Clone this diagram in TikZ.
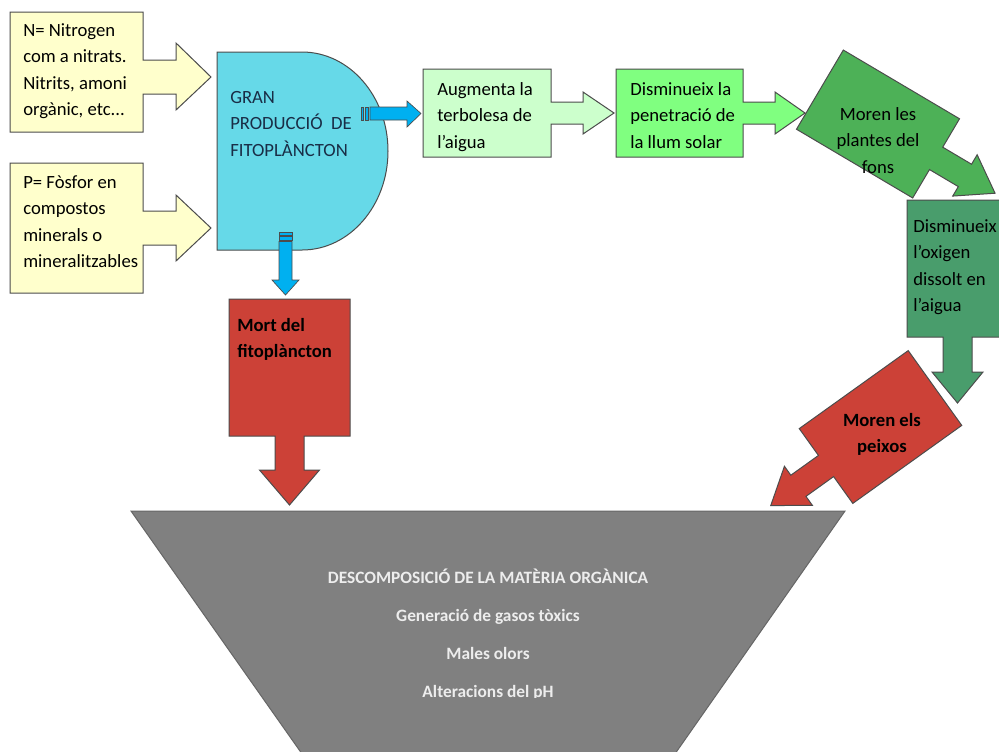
\documentclass[tikz,border=0pt]{standalone}
\usepackage{fontspec}
\setmainfont{Carlito}
\definecolor{yel}{HTML}{FFFFCC}
\definecolor{cyn}{HTML}{66D9E8}
\definecolor{blu}{HTML}{00B0F0}
\definecolor{lgr}{HTML}{CCFFCC}
\definecolor{bgr}{HTML}{80FF80}
\definecolor{mgr}{RGB}{77,177,87}
\definecolor{tgr}{RGB}{73,157,108}
\definecolor{redf}{RGB}{204,65,55}
\definecolor{gry}{HTML}{808080}
\definecolor{navy}{RGB}{25,45,70}
\begin{document}
\begin{tikzpicture}[x=0.75pt,y=-0.75pt,line join=miter,
  shp/.style={draw=black!70,line width=0.75pt},
  txt/.style={inner sep=0pt,anchor=north west,align=left,font=\fontsize{14}{19.8}\selectfont,text=black},
  ctxt/.style={txt,anchor=north,align=center},
  btxt/.style={inner sep=0pt,anchor=north,align=center,font=\fontsize{13}{28.5}\selectfont\bfseries,text=white!93!black}]
\clip (0,0) rectangle (999,751);
\fill[white] (0,0) rectangle (999,751);

% input callouts
\draw[shp,fill=yel] (10,12) -- (143,12) -- (143,60) -- (176,60) -- (176,43) -- (211,77) -- (176,110) -- (176,94) -- (143,94) -- (143,132) -- (10,132) -- cycle;
\draw[shp,fill=yel] (10,163) -- (143,163) -- (143,211) -- (176,211) -- (176,195) -- (211,228) -- (176,261) -- (176,245) -- (143,245) -- (143,293) -- (10,293) -- cycle;
\node[txt] (tN) at (23,17.5) {\strut N= Nitrogen\\\strut com a nitrats.\\\strut Nitrits, amoni\\\strut orgànic, etc{.}{.}{.}};
\node[txt] (tP) at (23,169.5) {\strut P= Fòsfor en\\\strut compostos\\\strut minerals o\\\strut mineralitzables};

% delay shape
\draw[shp,fill=cyn] (217,52) -- (302,52) arc[start angle=90,end angle=-90,x radius=64.5pt,y radius=74.25pt] -- (217,250) -- cycle;
\node[txt,text=navy] (tD) at (230,84.5) {\strut GRAN\\\strut PRODUCCIÓ\ \ DE\\\strut FITOPLÀNCTON};

% striped blue arrows
\draw[shp,fill=blu,line width=0.5pt] (361,107) rectangle (363,120);
\draw[shp,fill=blu,line width=0.5pt] (365,107) rectangle (368,120);
\draw[shp,fill=blu,line width=0.5pt] (370,107) -- (407,107) -- (407,101) -- (421,113.5) -- (407,127) -- (407,120) -- (370,120) -- cycle;
\draw[shp,fill=blu,line width=0.5pt] (279,232.5) rectangle (292,235);
\draw[shp,fill=blu,line width=0.5pt] (279,236.5) rectangle (292,240);
\draw[shp,fill=blu,line width=0.5pt] (279,241.5) -- (292,241.5) -- (292,280) -- (299,280) -- (285.5,295) -- (272,280) -- (279,280) -- cycle;

% chain of callouts
\draw[shp,fill=lgr] (423,69) -- (551,69) -- (551,102) -- (583,102) -- (583,92) -- (614,113) -- (583,134) -- (583,124) -- (551,124) -- (551,157) -- (423,157) -- cycle;
\node[txt] (tA) at (437,76.5) {\strut Augmenta la\\\strut terbolesa de\\\strut l’aigua};
\draw[shp,fill=bgr] (616,69) -- (743,69) -- (743,102) -- (775,102) -- (775,92) -- (805,113) -- (775,134) -- (775,124) -- (743,124) -- (743,157) -- (616,157) -- cycle;
\node[txt] (tL) at (630,76.5) {\strut Disminueix la\\\strut penetració de\\\strut la llum solar};

\begin{scope}[shift={(878,124)},rotate=-30.6]
\draw[shp,fill=mgr] (-67.5,-46) -- (67.5,-46) -- (67.5,-13) -- (101,-13) -- (101,-24) -- (136,0) -- (101,24) -- (101,13) -- (67.5,13) -- (67.5,46) -- (-67.5,46) -- cycle;
\end{scope}
\node[ctxt] (tF) at (878,101.5) {\strut Moren les\\\strut plantes del\\\strut fons};

\draw[shp,fill=tgr] (907,200) -- (1008,200) -- (1008,337) -- (972,337) -- (972,372) -- (983,372) -- (957.5,403) -- (932,372) -- (943,372) -- (943,337) -- (907,337) -- cycle;
\node[txt] (tO) at (913,213.5) {\strut Disminueix\\\strut l’oxigen\\\strut dissolt en\\\strut l’aigua};

\begin{scope}[shift={(880.5,427)},rotate=-144.4]
\draw[shp,fill=redf] (-67,-46) -- (67,-46) -- (67,-13) -- (101,-13) -- (101,-24) -- (135,0) -- (101,24) -- (101,13) -- (67,13) -- (67,46) -- (-67,46) -- cycle;
\end{scope}
\node[ctxt,font=\fontsize{14}{19.8}\selectfont\bfseries] (tX) at (882,407.5) {\strut Moren els\\\strut peixos};

\draw[shp,fill=redf] (229,299) -- (350,299) -- (350,436) -- (304,436) -- (304,470) -- (319.5,470) -- (289.5,505) -- (259.5,470) -- (275,470) -- (275,436) -- (229,436) -- cycle;
\node[txt,font=\fontsize{14}{19.8}\selectfont\bfseries] (tM) at (237,312.5) {\strut Mort del\\\strut fitoplàncton};

% funnel
\draw[shp,fill=gry,draw=black!60] (131,511) -- (845,511) -- (670.7,760) -- (306.3,760) -- cycle;
\begin{scope}
\clip (0,0) rectangle (999,697);
\node[btxt] (tT) at (488,556.4) {\strut DESCOMPOSICIÓ DE LA MATÈRIA ORGÀNICA\\\strut Generació de gasos tòxics\\\strut Males olors\\\strut Alteracions del pH};
\end{scope}
\end{tikzpicture}
\end{document}
